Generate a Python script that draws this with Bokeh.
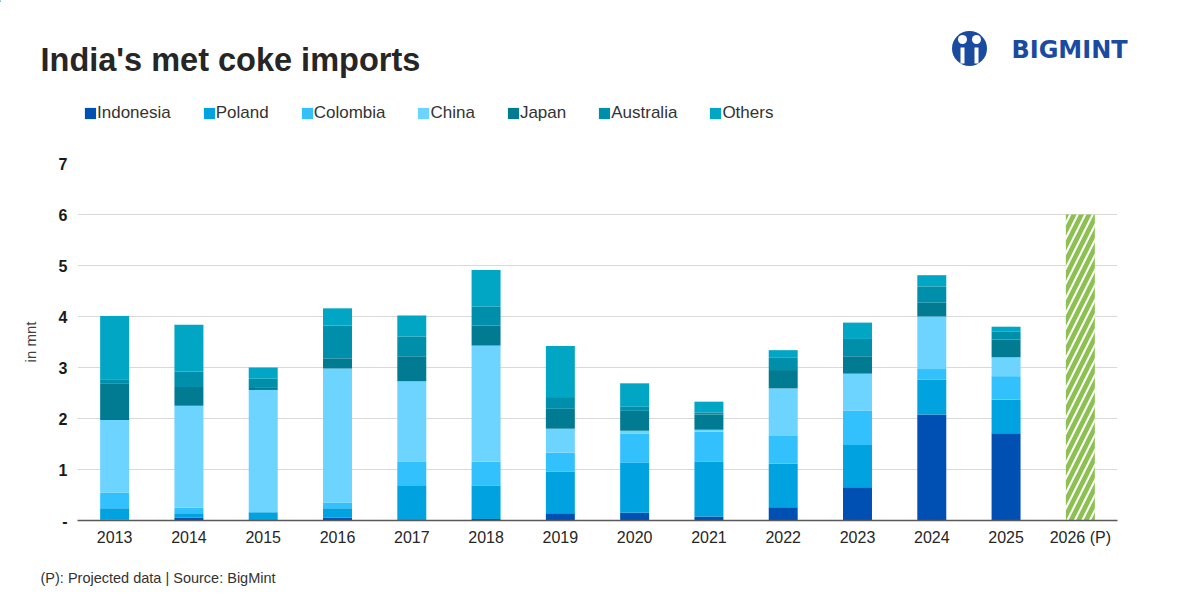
from bokeh.plotting import figure
from bokeh.layouts import column
from bokeh.models import (FactorRange, Range1d, FixedTicker, Label, Legend,
                          LegendItem, ColumnDataSource)
from bokeh.embed import file_html
from bokeh.resources import INLINE

# ---------------- data (million tonnes) ----------------
years = ["2013", "2014", "2015", "2016", "2017", "2018", "2019",
         "2020", "2021", "2022", "2023", "2024", "2025"]
projected_year = "2026 (P)"
categories = years + [projected_year]

indonesia = [0.02, 0.06, 0.00, 0.06, 0.00, 0.03, 0.14, 0.15, 0.08, 0.26, 0.65, 2.08, 1.71]
poland    = [0.22, 0.08, 0.16, 0.18, 0.69, 0.65, 0.82, 0.98, 1.07, 0.86, 0.83, 0.68, 0.66]
colombia  = [0.31, 0.11, 0.00, 0.11, 0.47, 0.47, 0.37, 0.57, 0.59, 0.55, 0.67, 0.21, 0.46]
china     = [1.42, 2.00, 2.40, 2.63, 1.57, 2.28, 0.47, 0.06, 0.04, 0.92, 0.73, 1.03, 0.37]
japan     = [0.72, 0.37, 0.04, 0.20, 0.49, 0.39, 0.39, 0.39, 0.30, 0.36, 0.34, 0.27, 0.35]
australia = [0.08, 0.30, 0.18, 0.64, 0.39, 0.37, 0.23, 0.08, 0.04, 0.24, 0.34, 0.32, 0.15]
others    = [1.24, 0.92, 0.22, 0.34, 0.41, 0.72, 1.00, 0.46, 0.21, 0.15, 0.32, 0.22, 0.10]
projected_value = [6.0]

series_names = ["Indonesia", "Poland", "Colombia", "China", "Japan", "Australia", "Others"]
series_values = [indonesia, poland, colombia, china, japan, australia, others]
series_colors = ["#0050b3", "#00a3e0", "#33c1fe", "#6dd4ff", "#007b92", "#008faa", "#00a6c3"]
projected_color = "#8cc152"

y_ticks = [0, 1, 2, 3, 4, 5, 6, 7]
y_tick_overrides = {0: "-"}

title_text = "India's met coke imports"
footer_text = "(P): Projected data | Source: BigMint"
y_label = "in mnt"
brand_text = "BIGMINT"
brand_color = "#1a4b9f"

FONT = "Liberation Sans"
W = 1200
HEAD_H, MAIN_H, FOOT_H = 155, 400, 45


def no_align(f):
    try:
        f.frame_align = False
    except Exception:
        pass


def blank(height):
    f = figure(width=W, height=height, x_range=Range1d(0, W), y_range=Range1d(height, 0),
               output_backend="svg", toolbar_location=None,
               x_axis_type=None, y_axis_type=None,
               min_border=0, min_border_left=0, min_border_right=0,
               min_border_top=0, min_border_bottom=0)
    f.xgrid.visible = False
    f.ygrid.visible = False
    f.outline_line_color = None
    f.title.visible = False
    f.background_fill_color = "white"
    f.border_fill_color = "white"
    no_align(f)
    return f


# ---------------- header: title, legend, logo ----------------
head = blank(HEAD_H)
head.add_layout(Label(x=40, y=59, text=title_text, text_font=FONT,
                      text_font_size="32.5px", text_font_style="bold",
                      text_color="#262626", text_baseline="middle"))

# off-screen proxy bars that only carry the legend swatches
legend_renderers = [head.vbar(x=[-500], top=[1], width=1, fill_color=c, line_color=None)
                    for c in series_colors]
legend = Legend(items=[LegendItem(label=n, renderers=[r])
                       for n, r in zip(series_names, legend_renderers)],
                orientation="horizontal", location=(83, HEAD_H - 123),
                glyph_width=14, glyph_height=14, label_standoff=0, spacing=31,
                padding=0, margin=0, border_line_color=None, background_fill_alpha=0,
                label_text_font=FONT, label_text_font_size="17px",
                label_text_color="#333333", label_height=20)
head.add_layout(legend)

# logo mark
head.scatter(x=[969], y=[48], size=35, marker="circle", fill_color=brand_color, line_color=None)
head.scatter(x=[962, 976], y=[39, 39], size=9, marker="circle", fill_color="white", line_color=None)
head.rect(x=[962, 976], y=[55, 55], width=4, height=16, fill_color="white", line_color=None)
head.add_layout(Label(x=1069, y=49, text=brand_text, text_font="DejaVu Sans",
                      text_font_size="24px", text_font_style="bold", text_color=brand_color,
                      text_align="center", text_baseline="middle"))

# ---------------- main chart ----------------
FL, FR, FT, FB = 77, 1117, 8, 365          # frame edges inside the main figure
p = figure(width=W, height=MAIN_H,
           x_range=FactorRange(factors=categories, range_padding=0),
           y_range=Range1d(0, 7),
           output_backend="svg", toolbar_location=None,
           min_border_left=FL, min_border_right=W - FR,
           min_border_top=FT, min_border_bottom=MAIN_H - FB)
no_align(p)
p.title.visible = False
p.outline_line_color = None
p.background_fill_color = "white"
p.border_fill_color = "white"

src = ColumnDataSource(dict(year=years, **dict(zip(series_names, series_values))))
p.vbar_stack(series_names, x="year", width=0.39, source=src,
             fill_color=series_colors, line_color=None)

psrc = ColumnDataSource(dict(year=[projected_year], value=projected_value))
p.vbar(x="year", top="value", width=0.39, source=psrc,
       fill_color=projected_color, line_color=None,
       hatch_pattern="/", hatch_color="white", hatch_weight=2, hatch_scale=15)

p.xaxis.axis_line_color = "#595959"
p.xaxis.axis_line_width = 1.5
p.xaxis.major_tick_line_color = None
p.xaxis.major_tick_out = 0
p.xaxis.major_tick_in = 0
p.xaxis.minor_tick_line_color = None
p.xaxis.major_label_standoff = 8
p.xaxis.major_label_text_font = FONT
p.xaxis.major_label_text_font_size = "16px"
p.xaxis.major_label_text_color = "#262626"

p.yaxis.ticker = FixedTicker(ticks=y_ticks)
p.yaxis.major_label_overrides = y_tick_overrides
p.yaxis.axis_line_color = None
p.yaxis.major_tick_line_color = None
p.yaxis.major_tick_out = 0
p.yaxis.major_tick_in = 0
p.yaxis.minor_tick_line_color = None
p.yaxis.major_label_standoff = 10
p.yaxis.major_label_text_font = FONT
p.yaxis.major_label_text_font_size = "16px"
p.yaxis.major_label_text_font_style = "bold"
p.yaxis.major_label_text_color = "#1a1a1a"
p.yaxis.axis_label = y_label
p.yaxis.axis_label_text_font = FONT
p.yaxis.axis_label_text_font_size = "15px"
p.yaxis.axis_label_text_font_style = "normal"
p.yaxis.axis_label_text_color = "#404040"
p.yaxis.axis_label_standoff = 17

p.xgrid.grid_line_color = None
p.ygrid.grid_line_color = "#d9d9d9"
p.ygrid.grid_line_width = 1

# ---------------- footer ----------------
foot = blank(FOOT_H)
foot.add_layout(Label(x=40, y=22, text=footer_text, text_font=FONT,
                      text_font_size="14.5px", text_color="#333333",
                      text_baseline="middle"))

layout = column(head, p, foot, spacing=0)
open("out.html", "w").write(file_html(layout, INLINE))
